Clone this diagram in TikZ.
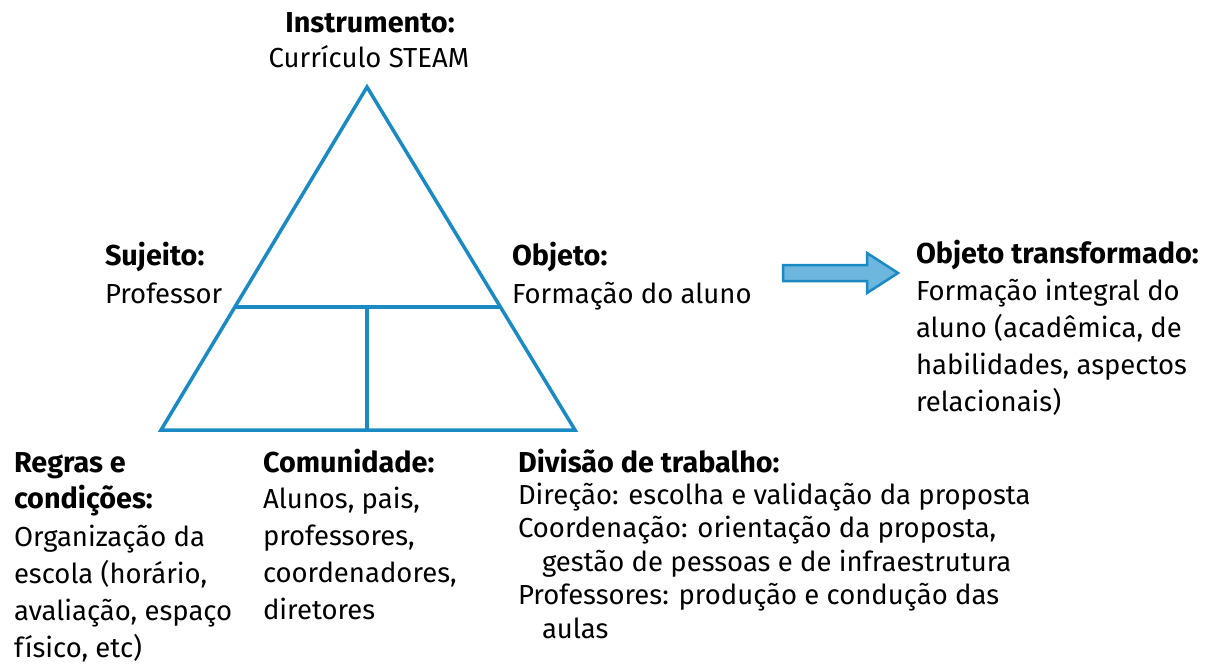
\documentclass[tikz,border=0pt]{standalone}
\usepackage{fontspec}
\setmainfont{Fira Sans}
\usetikzlibrary{calc}
\definecolor{triblue}{HTML}{1A8AC4}
\definecolor{arrfill}{HTML}{6DB6DE}
\begin{document}
\begin{tikzpicture}[x=1pt,y=-1pt,
  tri/.style={draw=triblue,line width=3.5pt},
  txt/.style={inner sep=0pt,outer sep=0pt,align=left,anchor=base west,font=\fontsize{27.5}{37}\selectfont},
  hd/.style={txt,font=\fontsize{28.8}{36}\selectfont\bfseries},
  ]
\useasboundingbox (0,0) rectangle (1206,664);
% triangle
\coordinate (A) at (367,87);
\coordinate (BL) at (161,430);
\coordinate (BR) at (575,430);
\coordinate (ML) at ($(A)!0.6414!(BL)$);
\coordinate (MR) at ($(A)!0.6414!(BR)$);
\coordinate (MT) at (367,307);
\coordinate (MB) at (367,430);
\draw[tri] (A) -- (BR) -- (BL) -- cycle;
\draw[tri] (ML) -- (MR);
\draw[tri] (MT) -- (MB);
% arrow
\draw[draw=triblue,fill=arrfill,line width=2.5pt] (783,265) -- (867,265) -- (867,253) -- (898,273) -- (867,293) -- (867,281) -- (783,281) -- cycle;
% texts (multi-line nodes: base = last line's baseline)
\node[hd,anchor=base] (instr) at (370,32) {Instrumento:};
\node[txt,anchor=base] (instrb) at (369,67) {Currículo STEAM};
\node[hd] (suj) at (105,265) {Sujeito:};
\node[txt] (sujb) at (105,303) {Professor};
\node[hd] (obj) at (512,265) {Objeto:};
\node[txt] (objb) at (512,303) {Formação do aluno};
\node[hd] (objt) at (916,263) {Objeto transformado:};
\node[txt] (objtb) at (916,411) {Formação integral do\\aluno (acadêmica, de\\habilidades, aspectos\\relacionais)};
\node[hd] (reg) at (14,508) {Regras e\\condições:};
\node[txt] (regb) at (14,657) {Organização da\\escola (horário,\\avaliação, espaço\\físico, etc)};
\node[hd] (com) at (263,472) {Comunidade:};
\node[txt] (comb) at (263,619) {Alunos, pais,\\professores,\\coordenadores,\\diretores};
\node[hd] (div) at (518,472) {Divisão de trabalho:};
\node[txt,font=\fontsize{27.5}{33.5}\selectfont] (divb) at (518,638) {Direção: escolha e validação da proposta\\Coordenação: orientação da proposta,\\\hspace*{24pt}gestão de pessoas e de infraestrutura\\Professores: produção e condução das\\\hspace*{24pt}aulas};
\end{tikzpicture}
\end{document}
